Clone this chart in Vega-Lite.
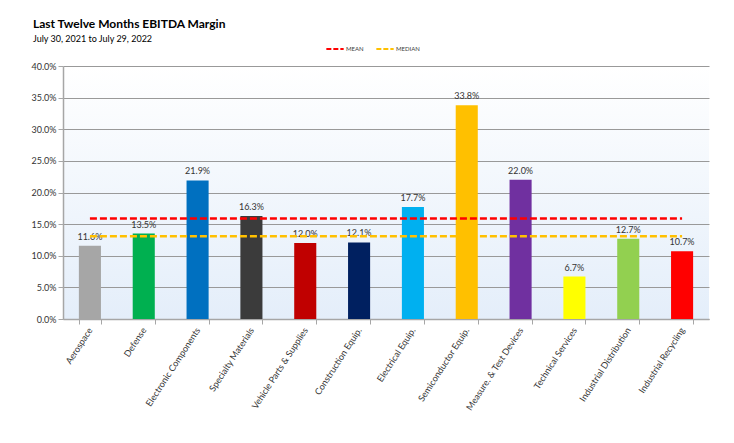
{
  "$schema": "https://vega.github.io/schema/vega-lite/v6.json",
  "width": 646,
  "height": 253,
  "autosize": {"type": "none"},
  "padding": {"left": 63, "top": 66, "right": 25, "bottom": 124},
  "background": "white",
  "title": {
    "text": "Last Twelve Months EBITDA Margin",
    "subtitle": "July 30, 2021 to July 29, 2022",
    "anchor": "start",
    "frame": "group",
    "dx": -30,
    "dy": 4,
    "offset": -2,
    "font": "Lato",
    "fontSize": 12,
    "fontWeight": "bold",
    "color": "#000000",
    "subtitleFont": "Lato",
    "subtitleFontSize": 9,
    "subtitleColor": "#000000",
    "subtitlePadding": 4
  },
  "datasets": {
    "bars": [
      {"category": "Aerospace", "margin": 0.116},
      {"category": "Defense", "margin": 0.135},
      {"category": "Electronic Components", "margin": 0.219},
      {"category": "Specialty Materials", "margin": 0.163},
      {"category": "Vehicle Parts & Supplies", "margin": 0.120},
      {"category": "Construction Equip.", "margin": 0.121},
      {"category": "Electrical Equip.", "margin": 0.177},
      {"category": "Semiconductor Equip.", "margin": 0.338},
      {"category": "Measure. & Test Devices", "margin": 0.220},
      {"category": "Technical Services", "margin": 0.067},
      {"category": "Industrial Distribution", "margin": 0.127},
      {"category": "Industrial Recycling", "margin": 0.107}
    ],
    "stats": [
      {"category": "Aerospace", "stat": "MEAN", "margin": 0.159},
      {"category": "Defense", "stat": "MEAN", "margin": 0.159},
      {"category": "Electronic Components", "stat": "MEAN", "margin": 0.159},
      {"category": "Specialty Materials", "stat": "MEAN", "margin": 0.159},
      {"category": "Vehicle Parts & Supplies", "stat": "MEAN", "margin": 0.159},
      {"category": "Construction Equip.", "stat": "MEAN", "margin": 0.159},
      {"category": "Electrical Equip.", "stat": "MEAN", "margin": 0.159},
      {"category": "Semiconductor Equip.", "stat": "MEAN", "margin": 0.159},
      {"category": "Measure. & Test Devices", "stat": "MEAN", "margin": 0.159},
      {"category": "Technical Services", "stat": "MEAN", "margin": 0.159},
      {"category": "Industrial Distribution", "stat": "MEAN", "margin": 0.159},
      {"category": "Industrial Recycling", "stat": "MEAN", "margin": 0.159},
      {"category": "Aerospace", "stat": "MEDIAN", "margin": 0.131},
      {"category": "Defense", "stat": "MEDIAN", "margin": 0.131},
      {"category": "Electronic Components", "stat": "MEDIAN", "margin": 0.131},
      {"category": "Specialty Materials", "stat": "MEDIAN", "margin": 0.131},
      {"category": "Vehicle Parts & Supplies", "stat": "MEDIAN", "margin": 0.131},
      {"category": "Construction Equip.", "stat": "MEDIAN", "margin": 0.131},
      {"category": "Electrical Equip.", "stat": "MEDIAN", "margin": 0.131},
      {"category": "Semiconductor Equip.", "stat": "MEDIAN", "margin": 0.131},
      {"category": "Measure. & Test Devices", "stat": "MEDIAN", "margin": 0.131},
      {"category": "Technical Services", "stat": "MEDIAN", "margin": 0.131},
      {"category": "Industrial Distribution", "stat": "MEDIAN", "margin": 0.131},
      {"category": "Industrial Recycling", "stat": "MEDIAN", "margin": 0.131}
    ]
  },
  "encoding": {
    "x": {
      "field": "category",
      "type": "nominal",
      "sort": null,
      "scale": {
        "domain": ["Aerospace", "Defense", "Electronic Components", "Specialty Materials", "Vehicle Parts & Supplies", "Construction Equip.", "Electrical Equip.", "Semiconductor Equip.", "Measure. & Test Devices", "Technical Services", "Industrial Distribution", "Industrial Recycling"],
        "paddingInner": 0.59,
        "paddingOuter": 0.295
      },
      "axis": {
        "title": null,
        "labelAngle": -57,
        "labelAlign": "right",
        "labelBaseline": "middle",
        "labelPadding": 4,
        "tickBand": "extent",
        "tickSize": 5,
        "tickColor": "#a6a6a6",
        "domainColor": "#a6a6a6",
        "domainWidth": 1.5,
        "grid": false,
        "labelFont": "Lato",
        "labelFontSize": 9,
        "labelColor": "#333333"
      }
    },
    "y": {
      "field": "margin",
      "type": "quantitative",
      "scale": {"domain": [0, 0.4], "nice": false},
      "axis": {
        "title": null,
        "format": ".1%",
        "values": [0, 0.05, 0.1, 0.15, 0.2, 0.25, 0.3, 0.35, 0.4],
        "labelOverlap": false,
        "grid": true,
        "gridColor": "#999999",
        "gridWidth": 1,
        "tickSize": 5,
        "tickColor": "#a6a6a6",
        "domainColor": "#a6a6a6",
        "domainWidth": 1.5,
        "labelFont": "Lato",
        "labelFontSize": 9,
        "labelColor": "#333333",
        "labelPadding": 2
      }
    }
  },
  "layer": [
    {
      "data": {"name": "bars"},
      "mark": {"type": "bar"},
      "encoding": {
        "color": {
          "field": "category",
          "type": "nominal",
          "legend": null,
          "scale": {
            "domain": ["Aerospace", "Defense", "Electronic Components", "Specialty Materials", "Vehicle Parts & Supplies", "Construction Equip.", "Electrical Equip.", "Semiconductor Equip.", "Measure. & Test Devices", "Technical Services", "Industrial Distribution", "Industrial Recycling"],
            "range": ["#a6a6a6", "#00b050", "#0070c0", "#3b3b3b", "#c00000", "#002060", "#00b0f0", "#ffc000", "#7030a0", "#ffff00", "#92d050", "#ff0000"]
          }
        }
      }
    },
    {
      "data": {"name": "bars"},
      "mark": {"type": "text", "baseline": "bottom", "dy": -4, "font": "Lato", "fontSize": 9, "color": "#333333"},
      "encoding": {
        "text": {"field": "margin", "type": "quantitative", "format": ".1%"}
      }
    },
    {
      "data": {"name": "stats"},
      "mark": {"type": "line", "strokeDash": [7, 3], "strokeWidth": 2.5},
      "encoding": {
        "detail": {"field": "stat"},
        "color": {
          "field": "stat",
          "type": "nominal",
          "scale": {"domain": ["MEAN", "MEDIAN"], "range": ["#ff0000", "#ffc000"]},
          "legend": {
            "title": null,
            "orient": "none",
            "legendX": 262,
            "legendY": -27,
            "direction": "horizontal",
            "symbolType": "stroke",
            "symbolDash": [5, 2],
            "symbolStrokeWidth": 2,
            "symbolSize": 300,
            "labelFont": "Lato",
            "labelFontSize": 6,
            "labelColor": "#404040",
            "labelOffset": 1,
            "columnPadding": 8
          }
        }
      }
    }
  ],
  "resolve": {"scale": {"color": "independent"}},
  "config": {
    "view": {
      "stroke": null,
      "fill": {
        "gradient": "linear",
        "x1": 0, "y1": 0, "x2": 0, "y2": 1,
        "stops": [
          {"offset": 0, "color": "#ffffff"},
          {"offset": 1, "color": "#e4eefa"}
        ]
      }
    }
  }
}
